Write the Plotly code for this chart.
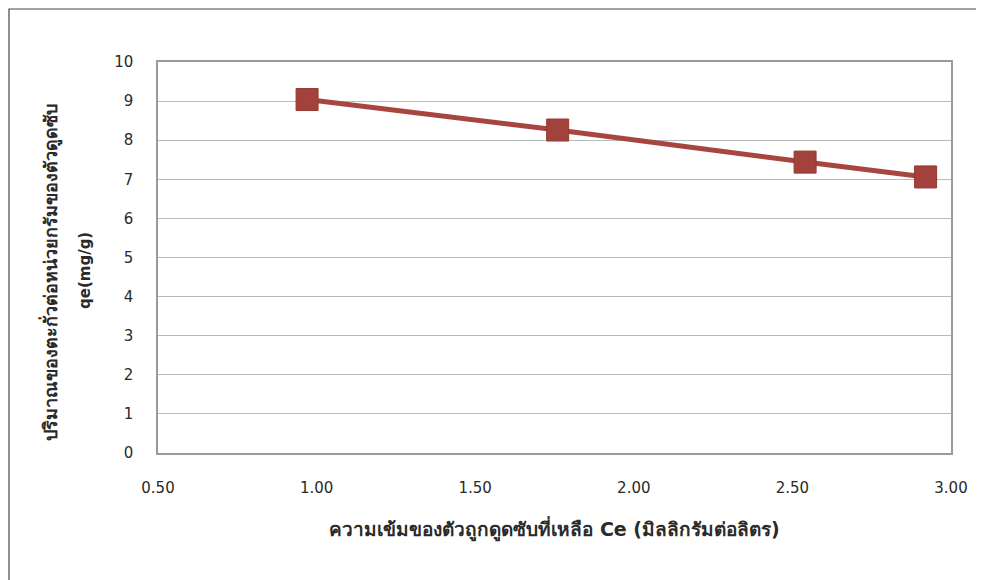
import plotly.graph_objects as go

# Residual concentration Ce (mg/L) and adsorbed amount qe (mg/g)
ce_values = [0.97, 1.76, 2.54, 2.92]
qe_values = [9.04, 8.26, 7.44, 7.06]

x_ticks = [0.5, 1.0, 1.5, 2.0, 2.5, 3.0]
y_ticks = list(range(0, 11))

x_title = "ความเข้มของตัวถูกดูดซับที่เหลือ Ce (มิลลิกรัมต่อลิตร)"
y_title_line1 = "ปริมาณของตะกั่วต่อหน่วยกรัมของตัวดูดซับ"
y_title_line2 = "qe(mg/g)"

font_family = "'DejaVu Sans', Tahoma, sans-serif"
series_color = "#a8453f"
grid_color = "#b4bcbc"
frame_color = "#9a9a9a"
text_color = "#2a2a2a"

fig = go.Figure()

fig.add_trace(
    go.Scatter(
        x=ce_values,
        y=qe_values,
        mode="lines+markers",
        line=dict(color=series_color, width=5),
        marker=dict(
            symbol="square",
            size=22,
            color="#a3423c",
            line=dict(color="#96382f", width=1)
        ),
        showlegend=False
    )
)

# y title is drawn as two rotated annotations (the lines sit far apart)
y_title_annotations = [
    dict(
        text="<b>" + y_title_line1 + "</b>",
        xref="paper", yref="paper",
        x=-0.1362, y=0.462,
        xanchor="center", yanchor="middle",
        textangle=-90, showarrow=False,
        font=dict(size=18, color=text_color)
    ),
    dict(
        text="<b>" + y_title_line2 + "</b>",
        xref="paper", yref="paper",
        x=-0.0921, y=0.468,
        xanchor="center", yanchor="middle",
        textangle=-90, showarrow=False,
        font=dict(size=15, color=text_color)
    ),
]

# page body adds an 8px margin, so the figure is 8px smaller than the window
fig.update_layout(
    width=976,
    height=572,
    margin=dict(l=150, r=33, t=54, b=127),
    paper_bgcolor="white",
    plot_bgcolor="white",
    font=dict(family=font_family, size=15, color=text_color),
    annotations=y_title_annotations,
    shapes=[
        # outer chart frame (left and top edges visible in the scan)
        dict(
            type="rect", xref="paper", yref="paper",
            x0=-0.1879, x1=1.2, y0=-0.5, y1=1.1355,
            line=dict(color="#444444", width=1.2),
            layer="below"
        )
    ]
)

fig.update_xaxes(
    range=[0.5, 3.0],
    tickvals=x_ticks,
    tickformat=".2f",
    showgrid=False,
    zeroline=False,
    showline=True,
    mirror=True,
    linecolor=frame_color,
    linewidth=1.5,
    ticks="",
    ticklabelstandoff=20,
    title=dict(
        text="<b>" + x_title + "</b>",
        font=dict(size=19, color=text_color),
        standoff=27
    )
)

fig.update_yaxes(
    range=[0, 10],
    tickvals=y_ticks,
    showgrid=True,
    gridcolor=grid_color,
    gridwidth=1.2,
    zeroline=False,
    showline=True,
    mirror=True,
    linecolor=frame_color,
    linewidth=1.5,
    ticks="",
    ticklabelstandoff=20
)

fig.write_html("out.html")
